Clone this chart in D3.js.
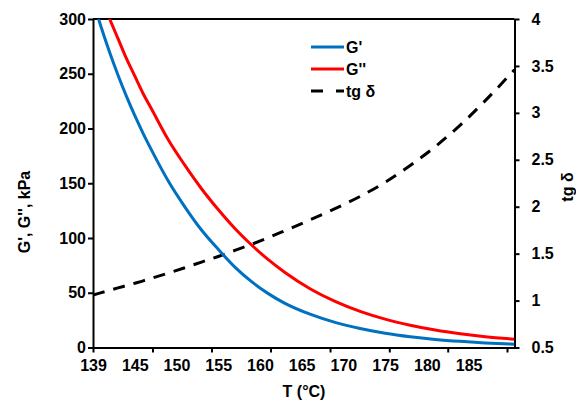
<!DOCTYPE html>
<html>
<head>
<meta charset="utf-8">
<script src="https://cdn.jsdelivr.net/npm/d3@7"></script>
<style>
  body { margin: 0; background: #fff; }
  svg text { font-family: "Liberation Sans", Arial, sans-serif; font-weight: bold; }
</style>
</head>
<body>
<div id="chart"></div>
<script>
// temperature, °C
const temps = [139, 140, 141, 142, 143, 144, 145, 146, 148, 150, 152, 154, 156, 158, 160, 162, 165, 168, 171, 174, 177, 180, 183, 186, 189.5];
// storage modulus G', kPa
const gStorage = [316, 292, 269.4, 248.7, 229.6, 211.9, 195.6, 180.5, 152.3, 128.5, 107.3, 89.7, 73.4, 60.1, 49.2, 40.3, 30.4, 22.9, 17.3, 13, 9.8, 7.4, 5.6, 4.2, 2.9];
// loss modulus G'', kPa
const gLoss = [340, 319, 300, 282, 264, 248, 232, 218, 190, 166.5, 145, 126, 108.7, 93.6, 80.2, 68.5, 53.7, 42.1, 33, 25.9, 20.4, 16, 12.6, 9.9, 7.6];
// loss tangent
const tanDelta = [1.06, 1.085, 1.11, 1.135, 1.16, 1.185, 1.21, 1.237, 1.292, 1.35, 1.41, 1.47, 1.535, 1.6, 1.67, 1.745, 1.86, 1.98, 2.11, 2.26, 2.44, 2.64, 2.87, 3.13, 3.46];

const xLabelValues = [139, 144, 149, 154, 159, 164, 169, 174, 179, 184];
const xLabels = ["139", "145", "150", "155", "160", "165", "170", "175", "180", "185"];
const xTickMarks = [139, 146.13, 153.2, 160.27, 167.4, 174.5, 181.5, 188.6];
const leftTicks = [0, 50, 100, 150, 200, 250, 300];
const rightTicks = [0.5, 1, 1.5, 2, 2.5, 3, 3.5, 4];

const W = 576, H = 401;
const plot = { left: 93, right: 514.5, top: 19, bottom: 347.5 };

const svg = d3.select("#chart")
    .append("svg")
    .attr("width", W)
    .attr("height", H);

const x = d3.scaleLinear().domain([139, 189.5]).range([plot.left, plot.right]);
const yL = d3.scaleLinear().domain([0, 300]).range([plot.bottom, plot.top]);
const yR = d3.scaleLinear().domain([0.5, 4]).range([plot.bottom, plot.top]);

svg.append("clipPath").attr("id", "clip")
    .append("rect")
    .attr("x", plot.left).attr("y", plot.top)
    .attr("width", plot.right - plot.left)
    .attr("height", plot.bottom - plot.top);

// top frame line
svg.append("line")
    .attr("x1", plot.left).attr("x2", plot.right)
    .attr("y1", plot.top).attr("y2", plot.top)
    .attr("stroke", "#000").attr("stroke-width", 2);

function styleAxis(g) {
    g.select(".domain").attr("stroke", "#000").attr("stroke-width", 2);
    g.selectAll(".tick line").attr("stroke", "#000").attr("stroke-width", 2);
    g.selectAll("text").style("font-size", "16px").attr("fill", "#000");
}

// x axis: tick marks
svg.append("g")
    .attr("transform", `translate(0,${plot.bottom})`)
    .call(d3.axisBottom(x).tickValues(xTickMarks).tickSize(5).tickFormat("").tickSizeOuter(0))
    .call(styleAxis);

// x axis: labels
svg.append("g")
    .attr("transform", `translate(0,${plot.bottom})`)
    .call(d3.axisBottom(x).tickValues(xLabelValues).tickSize(0).tickPadding(12)
        .tickFormat((d, i) => xLabels[i]))
    .call(g => g.select(".domain").remove())
    .call(styleAxis);

svg.append("g")
    .attr("transform", `translate(${plot.left},0)`)
    .call(d3.axisLeft(yL).tickValues(leftTicks).tickSize(5).tickPadding(2).tickSizeOuter(0))
    .call(styleAxis);

svg.append("g")
    .attr("transform", `translate(${plot.right},0)`)
    .call(d3.axisRight(yR).tickValues(rightTicks).tickSize(5).tickPadding(12).tickSizeOuter(0)
        .tickFormat(d3.format("")))
    .call(styleAxis);

const lines = svg.append("g").attr("clip-path", "url(#clip)");

const lineL = vals => d3.line().x((d, i) => x(temps[i])).y(d => yL(d)).curve(d3.curveMonotoneX)(vals);
const lineR = vals => d3.line().x((d, i) => x(temps[i])).y(d => yR(d)).curve(d3.curveMonotoneX)(vals);

lines.append("path").attr("d", lineR(tanDelta))
    .attr("fill", "none").attr("stroke", "#000").attr("stroke-width", 3)
    .attr("stroke-dasharray", "12,9");
lines.append("path").attr("d", lineL(gStorage))
    .attr("fill", "none").attr("stroke", "#0070C0").attr("stroke-width", 3);
lines.append("path").attr("d", lineL(gLoss))
    .attr("fill", "none").attr("stroke", "#FF0000").attr("stroke-width", 3);

// legend
const legend = [
    { label: "G'", color: "#0070C0", dash: null, y: 47 },
    { label: "G''", color: "#FF0000", dash: null, y: 69 },
    { label: "tg δ", color: "#000", dash: "12,13", y: 91 }
];
legend.forEach(d => {
    svg.append("line")
        .attr("x1", 311).attr("x2", 344).attr("y1", d.y).attr("y2", d.y)
        .attr("stroke", d.color).attr("stroke-width", 3)
        .attr("stroke-dasharray", d.dash);
    svg.append("text")
        .attr("x", 346).attr("y", d.y + 6)
        .style("font-size", "16px")
        .text(d.label);
});

// axis titles
svg.append("text")
    .attr("x", 304).attr("y", 397)
    .attr("text-anchor", "middle")
    .style("font-size", "16px")
    .text("T (°C)");

svg.append("text")
    .attr("transform", "translate(30,212) rotate(-90)")
    .attr("text-anchor", "middle")
    .style("font-size", "16px")
    .text("G', G'', kPa");

svg.append("text")
    .attr("transform", "translate(573,187) rotate(-90)")
    .attr("text-anchor", "middle")
    .style("font-size", "16px")
    .text("tg δ");
</script>
</body>
</html>
